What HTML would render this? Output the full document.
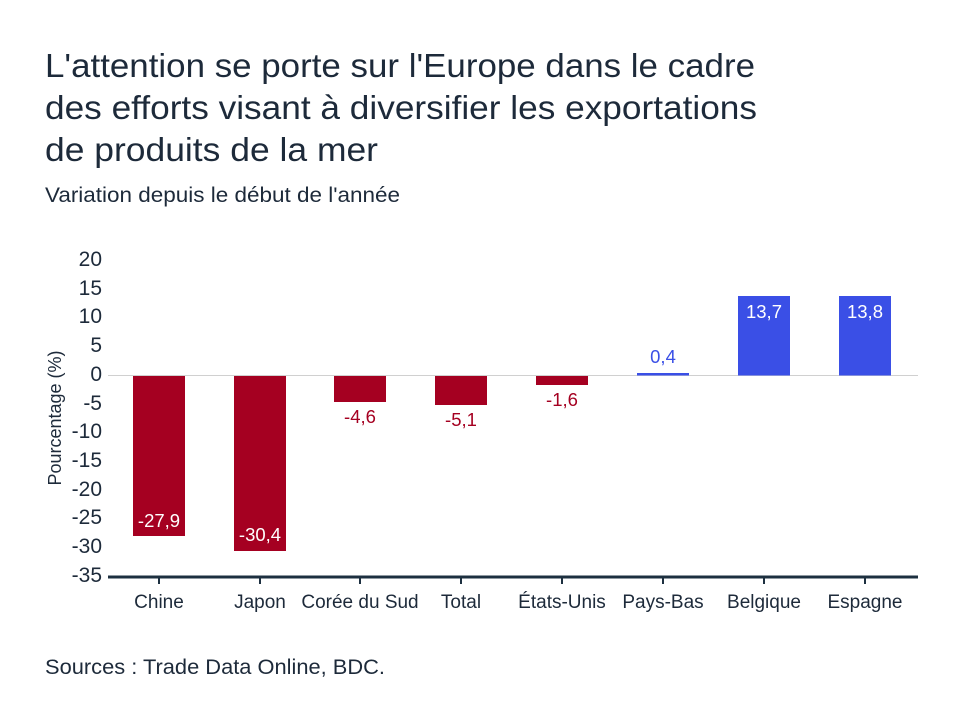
<!DOCTYPE html>
<html><head><meta charset="utf-8"><style>
body{margin:0;background:#fff;}
svg text{font-family:"Liberation Sans",sans-serif;}
</style></head><body>
<svg width="960" height="721" xmlns="http://www.w3.org/2000/svg">
<rect width="960" height="721" fill="#fff"/>
<g fill="#1d2a3a" font-size="33">
<text x="45" y="77" textLength="710" lengthAdjust="spacingAndGlyphs">L'attention se porte sur l'Europe dans le cadre</text>
<text x="45" y="119" textLength="712" lengthAdjust="spacingAndGlyphs">des efforts visant à diversifier les exportations</text>
<text x="45" y="161" textLength="333" lengthAdjust="spacingAndGlyphs">de produits de la mer</text>
</g>
<text x="45" y="202" font-size="21" fill="#1d2a3a" textLength="355" lengthAdjust="spacingAndGlyphs">Variation depuis le début de l'année</text>
<g font-size="21" fill="#1d2a3a" text-anchor="end">
<text x="102" y="266">20</text><text x="102" y="295">15</text><text x="102" y="323">10</text>
<text x="102" y="352">5</text><text x="102" y="381">0</text><text x="102" y="410">-5</text>
<text x="102" y="438">-10</text><text x="102" y="467">-15</text><text x="102" y="496">-20</text>
<text x="102" y="524">-25</text><text x="102" y="553">-30</text><text x="102" y="582">-35</text>
</g>
<text transform="translate(61,418) rotate(-90)" font-size="18" fill="#1d2a3a" text-anchor="middle">Pourcentage (%)</text>
<line x1="108" y1="375.5" x2="918" y2="375.5" stroke="#d0d0d0" stroke-width="1"/>
<g fill="#a50021">
<rect x="133" y="376" width="52" height="160"/>
<rect x="234" y="376" width="52" height="175"/>
<rect x="334" y="376" width="52" height="26"/>
<rect x="435" y="376" width="52" height="29"/>
<rect x="536" y="376" width="52" height="9"/>
</g>
<g fill="#3a4fe6">
<rect x="637" y="373" width="52" height="2.5"/>
<rect x="738" y="296" width="52" height="79.5"/>
<rect x="839" y="296" width="52" height="79.5"/>
</g>
<g font-size="18.5" text-anchor="middle">
<text x="159" y="527" fill="#fff">-27,9</text>
<text x="260" y="541" fill="#fff">-30,4</text>
<text x="360" y="423" fill="#a50021">-4,6</text>
<text x="461" y="426" fill="#a50021">-5,1</text>
<text x="562" y="406" fill="#a50021">-1,6</text>
<text x="663" y="363" fill="#3a4fe6">0,4</text>
<text x="764" y="318" fill="#fff">13,7</text>
<text x="865" y="318" fill="#fff">13,8</text>
</g>
<line x1="108" y1="577" x2="918" y2="577" stroke="#1d3040" stroke-width="3"/>
<g stroke="#1d3040" stroke-width="2">
<line x1="159" y1="577" x2="159" y2="584"/><line x1="260" y1="577" x2="260" y2="584"/>
<line x1="360" y1="577" x2="360" y2="584"/><line x1="461" y1="577" x2="461" y2="584"/>
<line x1="562" y1="577" x2="562" y2="584"/><line x1="663" y1="577" x2="663" y2="584"/>
<line x1="764" y1="577" x2="764" y2="584"/><line x1="865" y1="577" x2="865" y2="584"/>
</g>
<g font-size="19" fill="#1d2a3a" text-anchor="middle">
<text x="159" y="608">Chine</text><text x="260" y="608">Japon</text>
<text x="360" y="608">Corée du Sud</text><text x="461" y="608">Total</text>
<text x="562" y="608">États-Unis</text><text x="663" y="608">Pays-Bas</text>
<text x="764" y="608">Belgique</text><text x="865" y="608">Espagne</text>
</g>
<text x="45" y="674" font-size="21.5" fill="#1d2a3a" textLength="340" lengthAdjust="spacingAndGlyphs">Sources : Trade Data Online, BDC.</text>
</svg>
</body></html>
